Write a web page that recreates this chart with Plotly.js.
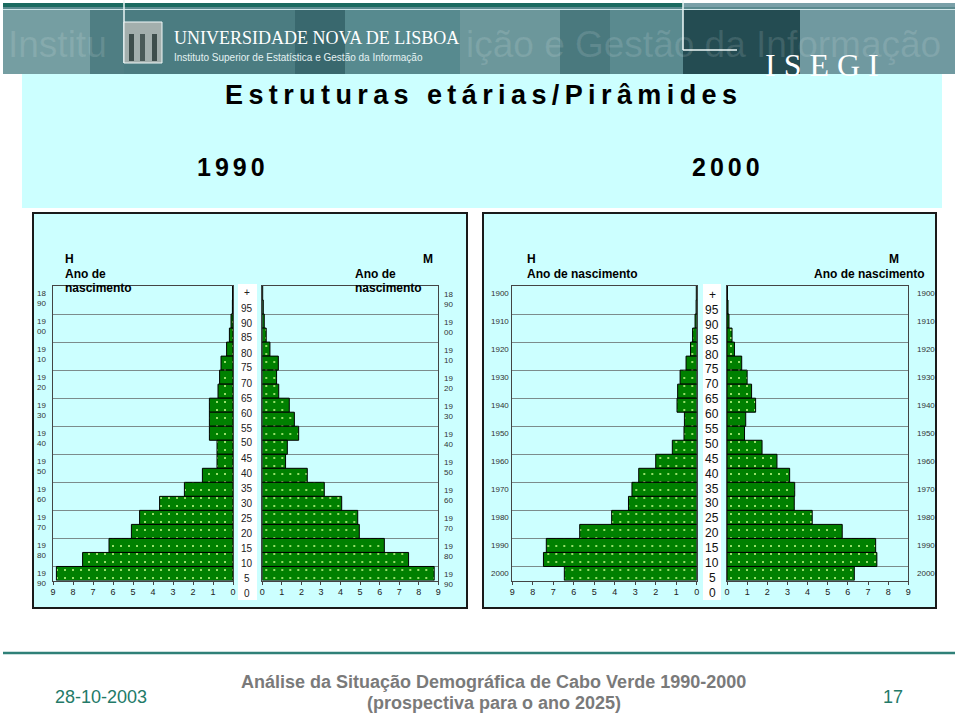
<!DOCTYPE html>
<html><head><meta charset="utf-8">
<script src="https://cdn.plot.ly/plotly-3.0.1.min.js"></script>
<style>html,body{margin:0;padding:0;background:#fff}#chart{width:960px;height:715px}</style>
</head><body><div id="chart"></div>
<script>
// ---------- DATA ----------
const ageGroups = ['100+','95-99','90-94','85-89','80-84','75-79','70-74','65-69','60-64','55-59','50-54',
                   '45-49','40-44','35-39','30-34','25-29','20-24','15-19','10-14','5-9','0-4'];
// 1990 pyramid (% of population), top (oldest) to bottom (youngest)
const men1990   = [0.02,0.03,0.10,0.18,0.32,0.60,0.67,0.75,1.18,1.18,1.18,0.80,0.80,1.53,2.43,3.67,4.67,5.08,6.20,7.52,8.83];
const women1990 = [0.02,0.05,0.10,0.20,0.39,0.82,0.73,0.84,1.38,1.64,1.86,1.28,1.19,2.30,3.17,4.06,4.88,4.96,6.24,7.48,8.79];
// 2000 pyramid
const men2000   = [0.02,0.03,0.08,0.20,0.30,0.52,0.81,0.93,0.96,0.60,0.62,1.19,2.00,2.83,3.16,3.33,4.15,5.71,7.34,7.48,6.46];
const women2000 = [0.02,0.05,0.10,0.25,0.37,0.73,1.00,1.22,1.42,0.93,0.87,1.74,2.48,3.11,3.36,3.34,4.23,5.72,7.38,7.44,6.32];
// labels
const birthYears1990 = ['18<br>90','19<br>00','19<br>10','19<br>20','19<br>30','19<br>40','19<br>50','19<br>60','19<br>70','19<br>80','19<br>90'];
const birthYears2000 = ['1900','1910','1920','1930','1940','1950','1960','1970','1980','1990','2000'];
const ageLabels = ['+','95','90','85','80','75','70','65','60','55','50','45','40','35','30','25','20','15','10','5','0'];
const xTicks = [0,1,2,3,4,5,6,7,8,9];

// ---------- helpers (layout positions) ----------
const W = 960, H = 715;
const px = x => x / W;
const py = y => 1 - y / H;
const FONT = 'Liberation Sans, Arial, sans-serif';
const NARROW = 'Liberation Sans Narrow, Arial Narrow, Liberation Sans, Arial, sans-serif';
const SERIF = 'Liberation Serif, DejaVu Serif, serif';

function barTrace(vals, xa, ya) {
  return {
    type: 'bar', orientation: 'h', x: vals, y: ageGroups, xaxis: xa, yaxis: ya,
    width: 1, hoverinfo: 'skip',
    marker: {
      color: '#008000',
      line: {color: '#000', width: 1},
      pattern: {shape: '.', bgcolor: '#008000', fgcolor: '#c8ff8c', size: 8, solidity: 0.05}
    }
  };
}
const data = [
  barTrace(men1990, 'x', 'y'),
  barTrace(women1990, 'x2', 'y2'),
  barTrace(men2000, 'x3', 'y3'),
  barTrace(women2000, 'x4', 'y4')
];

const yDom = [py(580.5), py(286)];
function xAx(d0, d1, reversed, anchor) {
  return {
    domain: [px(d0), px(d1)], anchor: anchor,
    range: reversed ? [9, 0] : [0, 9],
    tickmode: 'array', tickvals: xTicks, ticktext: xTicks.map(String),
    ticks: 'outside', ticklen: 3, tickcolor: '#444',
    showline: true, mirror: true, linecolor: '#444', linewidth: 1,
    showgrid: false, zeroline: false, fixedrange: true,
    tickfont: {family: FONT, size: 9, color: '#222'}
  };
}
function yAx(anchor) {
  return {
    domain: yDom, anchor: anchor, type: 'category', categoryarray: ageGroups,
    range: [20.5, -0.5], tickson: 'boundaries', showgrid: true, gridcolor: '#7c8c8c', gridwidth: 1,
    showticklabels: false, ticks: '', showline: true, mirror: true, linecolor: '#444', linewidth: 1,
    zeroline: false, fixedrange: true
  };
}

// ---------- shapes ----------
const shapes = [];
function rect(x0, y0, x1, y1, fill, line) {
  shapes.push({type: 'rect', xref: 'paper', yref: 'paper', layer: 'below',
    x0: px(x0), x1: px(x1), y0: py(y1), y1: py(y0), fillcolor: fill,
    line: line || {width: 0}});
}
function seg(x0, y0, x1, y1, color, width) {
  shapes.push({type: 'line', xref: 'paper', yref: 'paper', layer: 'below',
    x0: px(x0), x1: px(x1), y0: py(y0), y1: py(y1), line: {color: color, width: width}});
}
// header banner
rect(3, 3, 955, 74, '#5b8a8f');
rect(3, 10, 90, 74, '#759ea2');
rect(90, 10, 124, 74, '#4f7e83');
rect(124, 10, 295, 74, '#4b7c81');
rect(295, 10, 345, 74, '#39686e');
rect(345, 10, 460, 74, '#578a8f');
rect(460, 10, 560, 74, '#6c979b');
rect(560, 10, 610, 74, '#4a797e');
rect(610, 10, 683, 74, '#5a8a8f');
rect(683, 10, 800, 74, '#244c52');
rect(800, 10, 955, 74, '#7099a0');
rect(3, 3, 683, 7, '#1b6a60');
rect(683, 3, 955, 7, '#7aa0a8');
seg(3, 9.5, 955, 9.5, '#cfe6e8', 1);
seg(124, 0, 124, 63, '#e8f4f4', 1.5);
rect(124, 22, 162, 63, '#a3afad', {color: '#f0f8f8', width: 1});
rect(129, 34, 134, 61, '#3e4e4c');
rect(140, 34, 145, 61, '#4a5a58');
rect(152, 34, 157, 61, '#3e4e4c');
seg(683, 0, 683, 50, '#eef8f8', 1.5);
seg(683, 50, 737, 50, '#eef8f8', 1.5);
// title panel
rect(22, 74, 942, 208, '#ccffff');
// chart boxes
rect(33, 213, 467, 608, '#ccffff', {color: '#1a1a1a', width: 2});
rect(483, 213, 936, 608, '#ccffff', {color: '#1a1a1a', width: 2});
// white label strips
rect(238, 284, 257, 600, '#ffffff');
rect(703, 284, 721, 600, '#ffffff');
// footer line
seg(3, 653, 955, 653, '#2f8078', 2.5);

// ---------- annotations ----------
const annotations = [];
function ann(text, x, y, o) {
  o = o || {};
  annotations.push(Object.assign({
    text: text, xref: 'paper', yref: 'paper', x: px(x), y: py(y), showarrow: false,
    xanchor: 'center', yanchor: 'middle',
    font: {family: FONT, size: 12, color: '#000'}
  }, o));
}
// header texts (faint watermark pieces visible around the logo block)
ann('Institu', 6, 45, {xanchor: 'left', font: {family: FONT, size: 37, color: 'rgba(255,255,255,0.12)'}});
ann('ição e Gestão da Informação', 943, 45, {xanchor: 'right', font: {family: FONT, size: 37, color: 'rgba(255,255,255,0.12)'}});
ann('UNIVERSIDADE NOVA DE LISBOA', 172, 38, {xanchor: 'left', font: {family: SERIF, size: 18, color: '#ffffff'}});
ann('Instituto Superior de Estatística e Gestão da Informação', 172, 58,
    {xanchor: 'left', font: {family: FONT, size: 10, color: '#e4f2f2'}});
ann('<span style="letter-spacing:8px">ISEGI</span>', 826, 65, {font: {family: SERIF, size: 32, color: '#ffffff'}});
// titles
ann('<b><span style="letter-spacing:5.4px">Estruturas etárias/Pirâmides</span></b>', 483, 95,
    {font: {family: FONT, size: 27, color: '#000'}});
ann('<b><span style="letter-spacing:4px">1990</span></b>', 233, 167, {font: {family: FONT, size: 25, color: '#000'}});
ann('<b><span style="letter-spacing:4px">2000</span></b>', 728, 167, {font: {family: FONT, size: 25, color: '#000'}});
// chart headers
const hb = {xanchor: 'left', font: {family: FONT, size: 12, color: '#000'}};
ann('<b>H</b>', 63, 259, hb);
ann('<b>Ano de</b>', 63, 274, hb);
ann('<b>nascimento</b>', 63, 288, hb);
ann('<b>M</b>', 428, 259, {font: {family: FONT, size: 12, color: '#000'}});
ann('<b>Ano de</b>', 353, 274, hb);
ann('<b>nascimento</b>', 353, 288, hb);
ann('<b>H</b>', 525, 259, hb);
ann('<b>Ano de nascimento</b>', 525, 274, hb);
ann('<b>M</b>', 894, 259, {font: {family: FONT, size: 12, color: '#000'}});
ann('<b>Ano de nascimento</b>', 927, 274, {xanchor: 'right', font: {family: FONT, size: 12, color: '#000'}});
// birth year labels
birthYears1990.forEach((t, i) => {
  annotations.push({text: t, xref: 'paper', yref: 'y', x: px(41), y: ageGroups[2 * i], yshift: -5,
    showarrow: false, xanchor: 'center', font: {family: FONT, size: 8, color: '#333'}});
  annotations.push({text: t, xref: 'paper', yref: 'y2', x: px(448), y: ageGroups[2 * i], yshift: -6,
    showarrow: false, xanchor: 'center', font: {family: FONT, size: 8, color: '#333'}});
});
birthYears2000.forEach((t, i) => {
  annotations.push({text: t, xref: 'paper', yref: 'y3', x: px(511), y: ageGroups[2 * i],
    showarrow: false, xanchor: 'right', font: {family: NARROW, size: 8, color: '#333'}});
  annotations.push({text: t, xref: 'paper', yref: 'y4', x: px(915), y: ageGroups[2 * i],
    showarrow: false, xanchor: 'left', font: {family: FONT, size: 8, color: '#333'}});
});
// central age labels
ageLabels.forEach((t, k) => {
  ann(t, 247, 293 + 15 * k, {font: {family: NARROW, size: 10, color: '#222'}});
  ann(t, 712, 295 + 14.885 * k, {font: {family: NARROW, size: 12, color: '#111'}});
});
// footer
ann('28-10-2003', 101, 697, {font: {family: FONT, size: 18, color: '#237a68'}});
ann('<b>Análise da Situação Demográfica de Cabo Verde 1990-2000</b>', 494, 682, {font: {family: FONT, size: 18, color: '#7a7a7a'}});
ann('<b>(prospectiva para o ano 2025)</b>', 494, 703, {font: {family: FONT, size: 18, color: '#7a7a7a'}});
ann('17', 893, 697, {font: {family: FONT, size: 18, color: '#237a68'}});

const layout = {
  width: W, height: H, margin: {l: 0, r: 0, t: 0, b: 0},
  paper_bgcolor: '#ffffff', plot_bgcolor: 'rgba(0,0,0,0)',
  showlegend: false, bargap: 0, barmode: 'overlay',
  font: {family: FONT},
  xaxis: xAx(53, 233, true, 'y'),
  yaxis: yAx('x'),
  xaxis2: xAx(262.3, 438.3, false, 'y2'),
  yaxis2: yAx('x2'),
  xaxis3: xAx(512.3, 696.7, true, 'y3'),
  yaxis3: yAx('x3'),
  xaxis4: xAx(727, 908.3, false, 'y4'),
  yaxis4: yAx('x4'),
  shapes: shapes,
  annotations: annotations
};
Plotly.newPlot('chart', data, layout, {displayModeBar: false, staticPlot: true});
</script>
</body></html>
